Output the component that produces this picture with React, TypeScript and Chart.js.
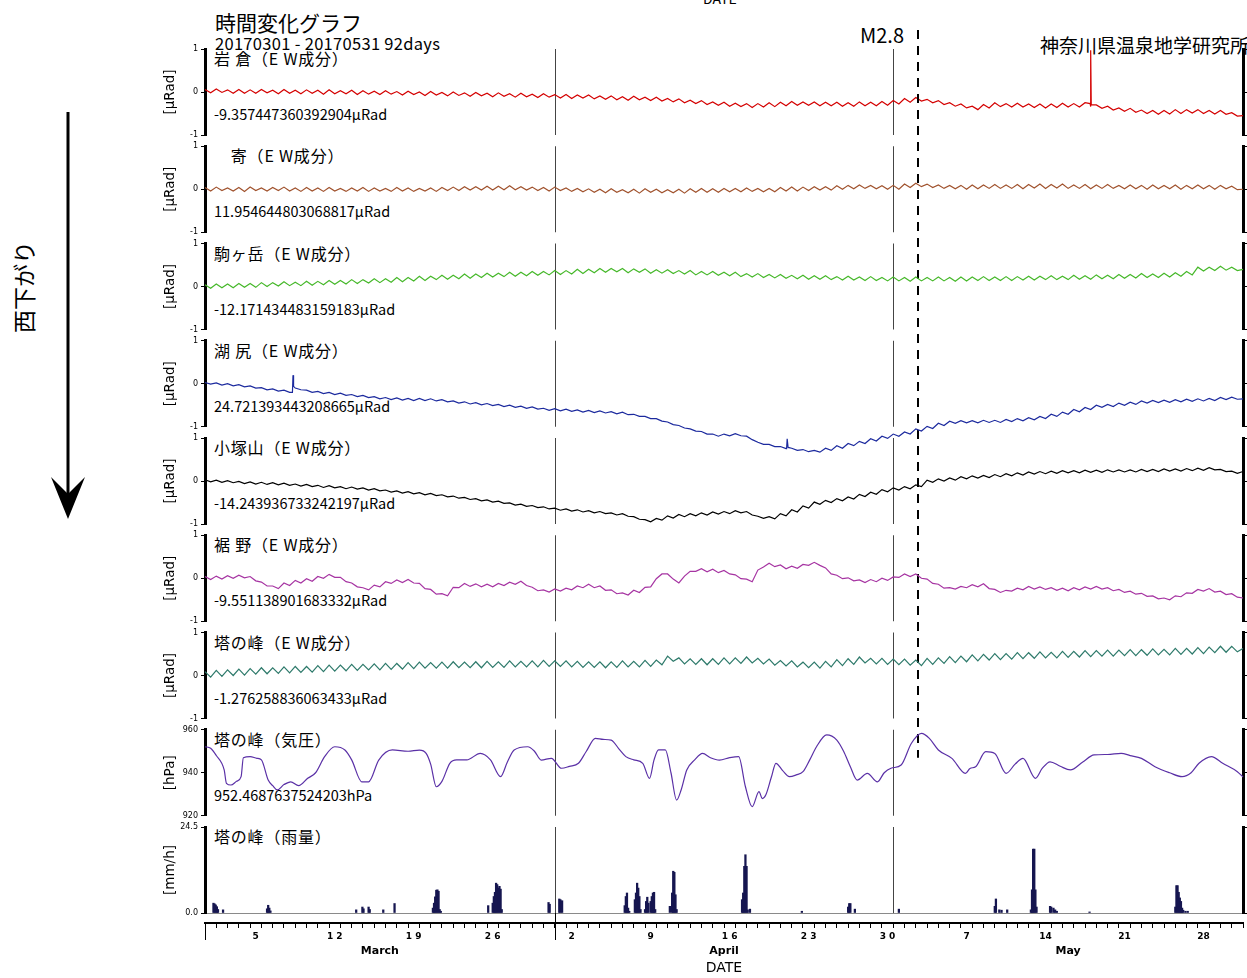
import React, { useEffect, useRef } from 'react';
import { Chart, registerables } from 'chart.js';

Chart.register(...registerables);
Chart.defaults.font.family = '"DejaVu Sans", sans-serif';

// ---- tilt series, one value every half day from 2017-03-01 00:00 (μRad, relative) ----
const iwakuraEW = [
  0.06, -0.02, 0.07, -0.01, 0.05, -0.03, 0.06, -0.03, 0.05, -0.03,
  0.06, -0.02, 0.04, -0.04, 0.06, -0.03, 0.04, -0.04, 0.05, -0.03,
  0.04, -0.05, 0.05, -0.04, 0.03, -0.04, 0.04, -0.06, 0.03, -0.05,
  0.02, -0.06, 0.03, -0.05, 0.01, -0.07, 0.02, -0.06, 0.0, -0.08,
  0.01, -0.07, -0.01, -0.09, 0.0, -0.08, -0.02, -0.1, -0.01, -0.09,
  -0.03, -0.11, -0.02, -0.1, -0.04, -0.12, -0.03, -0.11, -0.05, -0.13,
  -0.04, -0.12, -0.06, -0.14, -0.06, -0.15, -0.07, -0.14, -0.07, -0.16,
  -0.09, -0.17, -0.09, -0.18, -0.11, -0.19, -0.1, -0.18, -0.12, -0.2,
  -0.12, -0.21, -0.15, -0.23, -0.16, -0.25, -0.19, -0.27, -0.2, -0.29,
  -0.23, -0.31, -0.24, -0.33, -0.26, -0.34, -0.27, -0.36, -0.27, -0.35,
  -0.25, -0.34, -0.24, -0.32, -0.22, -0.31, -0.23, -0.31, -0.23, -0.32,
  -0.24, -0.32, -0.24, -0.33, -0.25, -0.33, -0.23, -0.32, -0.24, -0.32,
  -0.22, -0.31, -0.2, -0.28, -0.15, -0.24, -0.13, -0.21, -0.17, -0.25,
  -0.2, -0.29, -0.25, -0.33, -0.28, -0.37, -0.33, -0.41, -0.29, -0.37,
  -0.25, -0.34, -0.27, -0.35, -0.26, -0.35, -0.28, -0.36, -0.28, -0.37,
  -0.28, -0.36, -0.26, -0.35, -0.27, -0.35, -0.25, -0.34, -0.3, -0.38,
  -0.33, -0.42, -0.37, -0.45, -0.38, -0.47, -0.42, -0.5, -0.43, -0.52,
  -0.43, -0.51, -0.41, -0.5, -0.41, -0.49, -0.41, -0.5, -0.43, -0.51,
  -0.43, -0.52, -0.48, -0.56, -0.55,
];
const iwakuraSpike = [[78.45, -0.27], [78.5, 0.97], [78.55, -0.3]];

const ooyoseEW = [
  0.04, -0.04, 0.05, -0.03, 0.03, -0.04, 0.04, -0.05, 0.05, -0.03,
  0.03, -0.04, 0.04, -0.03, 0.05, -0.04, 0.03, -0.05, 0.04, -0.04,
  0.03, -0.05, 0.04, -0.04, 0.02, -0.05, 0.03, -0.04, 0.04, -0.05,
  0.03, -0.04, 0.02, -0.05, 0.04, -0.04, 0.03, -0.05, 0.02, -0.04,
  0.03, -0.05, 0.04, -0.03, 0.05, -0.03, 0.06, -0.02, 0.06, -0.02,
  0.07, -0.02, 0.07, -0.01, 0.08, -0.01, 0.06, -0.02, 0.05, -0.03,
  0.04, -0.04, 0.05, -0.03, 0.03, -0.05, 0.02, -0.06, 0.01, -0.07,
  0.0, -0.08, 0.01, -0.07, -0.01, -0.08, 0.0, -0.09, 0.01, -0.07,
  0.0, -0.08, -0.01, -0.08, 0.0, -0.09, 0.01, -0.07, 0.02, -0.07,
  0.01, -0.07, 0.02, -0.06, 0.02, -0.06, 0.03, -0.05, 0.02, -0.06,
  0.02, -0.06, 0.04, -0.04, 0.05, -0.04, 0.05, -0.03, 0.06, -0.02,
  0.06, -0.02, 0.08, 0.0, 0.09, 0.01, 0.1, 0.02, 0.09, 0.01,
  0.08, 0.0, 0.09, 0.0, 0.12, 0.04, 0.14, 0.06, 0.12, 0.04,
  0.1, 0.02, 0.09, 0.01, 0.09, 0.0, 0.1, 0.01, 0.1, 0.02,
  0.11, 0.02, 0.1, 0.02, 0.11, 0.01, 0.11, 0.03, 0.12, 0.02,
  0.11, 0.03, 0.12, 0.02, 0.1, 0.02, 0.11, 0.01, 0.1, 0.02,
  0.11, 0.02, 0.09, 0.01, 0.1, 0.01, 0.09, 0.0, 0.1, 0.01,
  0.09, 0.01, 0.1, 0.0, 0.09, 0.01, 0.1, 0.01, 0.09, 0.0,
  0.09, 0.01, 0.07, -0.01, 0.0,
];

const komagatakeEW = [
  0.04, -0.04, 0.06, -0.03, 0.06, -0.03, 0.07, -0.02, 0.07, -0.02,
  0.09, 0.0, 0.09, 0.01, 0.11, 0.02, 0.1, 0.02, 0.12, 0.03,
  0.12, 0.04, 0.14, 0.05, 0.14, 0.06, 0.16, 0.07, 0.16, 0.08,
  0.18, 0.09, 0.18, 0.1, 0.21, 0.11, 0.21, 0.13, 0.24, 0.14,
  0.24, 0.16, 0.26, 0.17, 0.26, 0.18, 0.29, 0.19, 0.29, 0.21,
  0.31, 0.22, 0.31, 0.23, 0.33, 0.24, 0.33, 0.25, 0.35, 0.26,
  0.35, 0.27, 0.37, 0.28, 0.37, 0.29, 0.4, 0.3, 0.4, 0.32,
  0.42, 0.33, 0.42, 0.34, 0.42, 0.32, 0.41, 0.33, 0.41, 0.31,
  0.39, 0.31, 0.39, 0.3, 0.37, 0.29, 0.37, 0.27, 0.35, 0.27,
  0.35, 0.26, 0.33, 0.25, 0.33, 0.23, 0.3, 0.22, 0.3, 0.21,
  0.28, 0.2, 0.28, 0.19, 0.26, 0.18, 0.26, 0.17, 0.25, 0.17,
  0.25, 0.16, 0.23, 0.15, 0.24, 0.15, 0.22, 0.14, 0.23, 0.14,
  0.21, 0.13, 0.22, 0.13, 0.21, 0.12, 0.22, 0.13, 0.21, 0.13,
  0.22, 0.13, 0.21, 0.12, 0.22, 0.13, 0.22, 0.14, 0.23, 0.14,
  0.22, 0.14, 0.23, 0.14, 0.23, 0.15, 0.24, 0.15, 0.24, 0.16,
  0.25, 0.16, 0.24, 0.16, 0.26, 0.17, 0.25, 0.17, 0.27, 0.18,
  0.26, 0.18, 0.28, 0.19, 0.28, 0.2, 0.3, 0.21, 0.29, 0.21,
  0.31, 0.22, 0.32, 0.24, 0.35, 0.27, 0.45, 0.36, 0.45, 0.37,
  0.47, 0.38, 0.45, 0.37, 0.4,
];

const kojiriEW = [
  0.03, -0.01, 0.02, -0.03, 0.0, -0.05, -0.02, -0.07, -0.05, -0.1,
  -0.09, -0.14, -0.12, -0.17, -0.15, -0.2, -0.1, -0.14, -0.15, -0.2,
  -0.18, -0.23, -0.2, -0.25, -0.22, -0.27, -0.25, -0.3, -0.27, -0.32,
  -0.3, -0.35, -0.32, -0.37, -0.33, -0.38, -0.34, -0.39, -0.34, -0.39,
  -0.35, -0.4, -0.37, -0.42, -0.4, -0.45, -0.42, -0.47, -0.44, -0.49,
  -0.46, -0.51, -0.48, -0.53, -0.5, -0.55, -0.52, -0.57, -0.54, -0.59,
  -0.57, -0.62, -0.58, -0.63, -0.59, -0.64, -0.61, -0.66, -0.62, -0.67,
  -0.63, -0.68, -0.65, -0.7, -0.66, -0.72, -0.71, -0.76, -0.76, -0.81,
  -0.81, -0.87, -0.89, -0.95, -0.97, -1.03, -1.05, -1.1, -1.11, -1.17,
  -1.17, -1.22, -1.17, -1.21, -1.16, -1.21, -1.22, -1.3, -1.36, -1.41,
  -1.41, -1.46, -1.46, -1.51, -1.5, -1.55, -1.53, -1.58, -1.55, -1.59,
  -1.5, -1.55, -1.44, -1.5, -1.39, -1.44, -1.34, -1.39, -1.28, -1.33,
  -1.22, -1.27, -1.17, -1.22, -1.12, -1.17, -1.05, -1.1, -0.99, -1.04,
  -0.92, -0.97, -0.87, -0.92, -0.86, -0.91, -0.86, -0.91, -0.85, -0.9,
  -0.85, -0.9, -0.83, -0.88, -0.81, -0.86, -0.79, -0.84, -0.76, -0.81,
  -0.71, -0.76, -0.66, -0.71, -0.6, -0.65, -0.55, -0.6, -0.5, -0.55,
  -0.48, -0.53, -0.45, -0.5, -0.43, -0.48, -0.4, -0.45, -0.39, -0.44,
  -0.38, -0.43, -0.37, -0.42, -0.36, -0.41, -0.35, -0.4, -0.34, -0.39,
  -0.32, -0.37, -0.31, -0.36, -0.35,
];
const kojiriSpikes = [[7.75, -0.2], [7.8, 0.2], [7.85, -0.06], [51.55, -1.5], [51.6, -1.28], [51.68, -1.48]];

const kozukayamaEW = [
  0.03, -0.02, 0.02, -0.03, 0.01, -0.04, -0.01, -0.06, -0.02, -0.07,
  -0.03, -0.08, -0.04, -0.09, -0.05, -0.1, -0.07, -0.12, -0.08, -0.13,
  -0.1, -0.15, -0.11, -0.16, -0.13, -0.18, -0.14, -0.19, -0.16, -0.21,
  -0.18, -0.23, -0.21, -0.26, -0.23, -0.28, -0.25, -0.3, -0.27, -0.32,
  -0.29, -0.34, -0.32, -0.37, -0.35, -0.4, -0.38, -0.43, -0.41, -0.46,
  -0.44, -0.49, -0.47, -0.52, -0.51, -0.56, -0.54, -0.59, -0.57, -0.62,
  -0.6, -0.65, -0.63, -0.68, -0.65, -0.7, -0.67, -0.72, -0.69, -0.74,
  -0.71, -0.76, -0.74, -0.79, -0.76, -0.82, -0.83, -0.89, -0.9, -0.95,
  -0.87, -0.91, -0.81, -0.86, -0.78, -0.83, -0.76, -0.81, -0.74, -0.79,
  -0.72, -0.77, -0.71, -0.76, -0.69, -0.74, -0.71, -0.79, -0.82, -0.87,
  -0.83, -0.88, -0.76, -0.81, -0.67, -0.72, -0.58, -0.63, -0.49, -0.54,
  -0.45, -0.5, -0.41, -0.46, -0.37, -0.42, -0.31, -0.36, -0.26, -0.31,
  -0.2, -0.25, -0.16, -0.21, -0.13, -0.18, -0.09, -0.13, 0.02, -0.03,
  0.05, 0.0, 0.07, 0.02, 0.1, 0.05, 0.12, 0.07, 0.13, 0.08,
  0.15, 0.1, 0.17, 0.12, 0.19, 0.14, 0.21, 0.16, 0.22, 0.17,
  0.23, 0.18, 0.24, 0.19, 0.24, 0.19, 0.25, 0.2, 0.25, 0.2,
  0.26, 0.21, 0.26, 0.21, 0.26, 0.21, 0.27, 0.22, 0.27, 0.22,
  0.28, 0.23, 0.28, 0.23, 0.29, 0.24, 0.3, 0.25, 0.31, 0.26,
  0.27, 0.22, 0.23, 0.18, 0.22,
];

const susonoEW = [
  0.04, -0.03, 0.05, -0.02, 0.06, 0.0, 0.07, 0.01, 0.04, -0.06,
  -0.09, -0.18, -0.18, -0.24, -0.11, -0.17, -0.05, -0.11, -0.01, -0.07,
  0.04, 0.0, 0.09, 0.02, 0.02, -0.08, -0.11, -0.2, -0.22, -0.27,
  -0.16, -0.2, -0.08, -0.12, -0.04, -0.1, -0.03, -0.11, -0.12, -0.24,
  -0.26, -0.37, -0.36, -0.41, -0.21, -0.22, -0.12, -0.19, -0.13, -0.2,
  -0.14, -0.2, -0.12, -0.17, -0.09, -0.14, -0.07, -0.17, -0.21, -0.29,
  -0.27, -0.32, -0.25, -0.3, -0.23, -0.27, -0.18, -0.22, -0.14, -0.22,
  -0.18, -0.28, -0.27, -0.36, -0.34, -0.39, -0.28, -0.33, -0.21, -0.2,
  -0.01, 0.1, 0.1, -0.02, -0.11, 0.05, 0.16, 0.16, 0.22, 0.15,
  0.21, 0.13, 0.18, 0.1, 0.08, -0.01, -0.02, -0.08, 0.19, 0.26,
  0.35, 0.27, 0.31, 0.22, 0.28, 0.23, 0.32, 0.3, 0.37, 0.3,
  0.24, 0.1, 0.07, -0.01, 0.01, -0.06, -0.04, -0.1, -0.03, -0.08,
  0.0, -0.05, 0.03, 0.02, 0.1, 0.04, 0.1, 0.0, -0.02, -0.12,
  -0.14, -0.23, -0.22, -0.25, -0.19, -0.22, -0.15, -0.2, -0.13, -0.24,
  -0.26, -0.33, -0.28, -0.3, -0.23, -0.27, -0.19, -0.25, -0.2, -0.26,
  -0.22, -0.28, -0.23, -0.29, -0.22, -0.27, -0.2, -0.25, -0.19, -0.25,
  -0.22, -0.29, -0.26, -0.33, -0.3, -0.37, -0.35, -0.42, -0.41, -0.48,
  -0.46, -0.5, -0.41, -0.43, -0.34, -0.35, -0.26, -0.3, -0.24, -0.32,
  -0.3, -0.38, -0.36, -0.44, -0.46,
];

const tonomineEW = [
  0.09, -0.04, 0.12, -0.02, 0.13, 0.0, 0.15, 0.01, 0.16, 0.03,
  0.18, 0.04, 0.18, 0.05, 0.2, 0.06, 0.21, 0.07, 0.21, 0.08,
  0.23, 0.09, 0.24, 0.1, 0.24, 0.11, 0.26, 0.12, 0.26, 0.13,
  0.27, 0.13, 0.28, 0.14, 0.28, 0.15, 0.3, 0.16, 0.31, 0.17,
  0.3, 0.17, 0.31, 0.17, 0.32, 0.18, 0.31, 0.18, 0.32, 0.18,
  0.33, 0.19, 0.32, 0.19, 0.34, 0.2, 0.33, 0.2, 0.34, 0.2,
  0.35, 0.21, 0.34, 0.21, 0.34, 0.2, 0.33, 0.19, 0.32, 0.19,
  0.32, 0.18, 0.32, 0.19, 0.34, 0.2, 0.33, 0.2, 0.35, 0.21,
  0.36, 0.25, 0.45, 0.33, 0.41, 0.27, 0.39, 0.26, 0.39, 0.25,
  0.39, 0.26, 0.41, 0.27, 0.41, 0.28, 0.43, 0.29, 0.4, 0.27,
  0.38, 0.24, 0.35, 0.22, 0.34, 0.2, 0.31, 0.18, 0.31, 0.17,
  0.33, 0.2, 0.37, 0.23, 0.39, 0.26, 0.43, 0.29, 0.4, 0.27,
  0.4, 0.26, 0.38, 0.25, 0.38, 0.24, 0.36, 0.23, 0.4, 0.26,
  0.41, 0.28, 0.44, 0.3, 0.45, 0.32, 0.48, 0.34, 0.49, 0.36,
  0.51, 0.37, 0.51, 0.38, 0.53, 0.39, 0.53, 0.4, 0.55, 0.41,
  0.54, 0.41, 0.56, 0.42, 0.56, 0.43, 0.58, 0.44, 0.58, 0.45,
  0.59, 0.45, 0.59, 0.46, 0.6, 0.46, 0.6, 0.47, 0.62, 0.48,
  0.61, 0.48, 0.63, 0.49, 0.63, 0.5, 0.65, 0.51, 0.66, 0.53,
  0.68, 0.54, 0.68, 0.55, 0.63,
];

// ---- 塔の峰 barometric pressure (day, hPa) ----
const pressureDays = [
  0, 0.5, 1.0, 1.7, 1.9, 2.3, 2.8, 3.2, 3.4, 4.0,
  4.6, 5.0, 5.6, 6.0, 6.4, 7.0, 7.6, 8.3, 9.1, 9.8,
  10.6, 11.5, 12.4, 13.0, 13.9, 14.5, 15.4, 16.6, 18.0, 19.0,
  19.6, 20.0, 20.5, 21.0, 21.7, 22.3, 23.2, 24.4, 25.3, 26.2,
  26.8, 27.4, 28.6, 29.2, 29.8, 30.7, 31.6, 32.3, 33.1, 33.8,
  34.6, 35.3, 36.0, 36.7, 37.3, 38.0, 38.8, 39.4, 39.8, 40.2,
  40.8, 41.3, 41.8, 42.2, 42.7, 43.4, 44.1, 44.8, 45.6, 46.5,
  47.3, 47.9, 48.5, 49.1, 49.4, 49.7, 50.2, 50.6, 51.2, 51.8,
  52.4, 53.0, 53.6, 54.2, 55.1, 56.0, 56.6, 57.2, 57.8, 58.7,
  59.6, 60.2, 60.8, 61.7, 62.6, 63.5, 64.2, 65.0, 66.2, 67.4,
  67.8, 68.3, 69.2, 70.0, 71.0, 71.8, 72.5, 73.6, 74.2, 74.9,
  75.8, 76.7, 77.8, 78.8, 80.0, 81.2, 82.0, 83.0, 84.2, 85.5,
  86.6, 87.4, 88.1, 89.2, 90.2, 91.5, 92.0,
];
const pressureHpa = [
  952.1, 951.4, 948, 941.3, 935.1, 934.3, 936, 938.2, 947, 947.5,
  946.7, 946, 936.6, 934, 932, 934.5, 935.8, 934, 937.4, 940,
  947.5, 952.1, 950.6, 946, 935.8, 935.8, 945.9, 950.6, 950, 950.5,
  949, 944, 933.5, 936, 944.4, 946, 946, 949, 946, 938.2,
  945, 950.6, 952.1, 950, 945.9, 946.7, 942.1, 943, 944.4, 950,
  956, 955.5, 955.2, 951, 947.5, 946, 944.4, 937.4, 946, 950.6,
  950.6, 940, 927.3, 932, 941.3, 946, 949, 947, 945.9, 947,
  947.5, 933.5, 924.2, 931.2, 928, 929.6, 938, 944.4, 941, 938.2,
  939, 940.5, 946, 952.1, 957.6, 955.2, 950, 942.8, 936.6, 939.7,
  935.8, 940, 942.1, 943.6, 953.6, 958.3, 956, 950.6, 946.7, 939.7,
  942, 942.8, 949.8, 949, 939.7, 944, 946.7, 937.4, 942, 945.1,
  943, 941.3, 945, 948.3, 948.5, 949, 948, 946.7, 942.8, 940,
  938.2, 940, 944.4, 947.5, 944.4, 940.5, 938,
];

// ---- 塔の峰 rainfall (day, mm/h) ----
const rainDays = [
  0.75, 0.85, 0.95, 1.05, 1.15, 1.6, 5.5, 5.6, 5.7, 5.8,
  13.4, 13.95, 14.05, 14.5, 14.6, 15.8, 16.8, 20.2, 20.3, 20.4,
  20.5, 20.6, 20.7, 20.8, 20.9, 25.1, 25.5, 25.6, 25.7, 25.8,
  25.9, 26.0, 26.1, 26.2, 26.3, 30.45, 30.55, 31.4, 31.5, 31.65,
  37.2, 37.3, 37.4, 37.5, 37.6, 38.1, 38.2, 38.3, 38.4, 38.5,
  38.6, 39.0, 39.1, 39.2, 39.3, 39.5, 39.6, 39.7, 39.8, 39.9,
  41.2, 41.4, 41.5, 41.6, 41.7, 41.8, 47.6, 47.7, 47.8, 47.9,
  48.0, 48.1, 48.3, 52.9, 57.0, 57.1, 57.2, 57.6, 61.5, 70.0,
  70.1, 70.4, 70.6, 71.1, 73.2, 73.3, 73.4, 73.5, 73.6, 73.7,
  74.9, 75.0, 75.2, 75.35, 75.5, 78.4, 86.0, 86.1, 86.2, 86.3,
  86.4, 86.5, 86.6, 86.7, 86.9, 87.1,
];
const rainMm = [
  2.8, 2.6, 2.3, 1.8, 1.0, 0.9, 1.2, 2.2, 1.4, 0.6,
  0.9, 1.7, 1.2, 1.7, 1.0, 0.9, 2.7, 1.4, 2.8, 4.6,
  6.5, 6.6, 6.2, 1.0, 0.5, 2.1, 2.8, 4.7, 5.9, 8.5,
  8.1, 7.1, 7.6, 6.8, 1.0, 3.0, 2.5, 4.0, 3.8, 3.5,
  2.1, 4.7, 5.7, 1.4, 0.5, 3.8, 5.7, 8.5, 7.1, 4.7,
  1.0, 1.0, 3.3, 4.5, 2.8, 3.3, 4.7, 5.7, 5.9, 1.0,
  1.9, 5.7, 11.9, 11.6, 5.2, 1.0, 3.8, 5.7, 13.3, 16.6,
  13.3, 0.9, 1.1, 0.5, 1.7, 2.7, 2.7, 1.1, 1.1, 1.9,
  4.0, 0.9, 0.8, 0.9, 0.9, 6.6, 18.2, 18.2, 6.6, 1.7,
  1.9, 1.7, 1.4, 0.9, 0.5, 0.3, 1.7, 7.8, 7.8, 5.9,
  4.3, 3.3, 1.4, 0.8, 0.5, 0.5,
];

// ---- axis labels ----
const tiltTicks = [-1, 0, 1];
const pressureTicks = [920, 940, 960];
const rainTicks = [0, 24.5];
const dayLabelDays = [4, 11, 18, 25, 32, 39, 46, 53, 60, 67, 74, 81, 88];
const dayLabelTexts = ['5', '1 2', '1 9', '2 6', '2', '9', '1 6', '2 3', '3 0', '7', '14', '21', '28'];
const monthCenters = [15.5, 46, 76.5];
const monthNames = ['March', 'April', 'May'];
const monthStarts = [31, 61];
const quakeDay = 63.2;
const TOTAL_DAYS = 92;

// ---- page geometry ----
const PAGE_W = 1247;
const PAGE_H = 978;
const PANEL_TOP = 49;
const PANEL_STEP = 97.25;
const PANEL_H = 86;
const CJK = '"Noto Sans CJK JP", "Noto Sans", sans-serif';

type Pt = { x: number; y: number };

function halfDayPoints(values: number[], extra: number[][] = []): Pt[] {
  const pts = values.map((v, i) => ({ x: i / 2, y: v }));
  extra.forEach(([x, y]) => pts.push({ x, y }));
  return pts.sort((a, b) => a.x - b.x);
}

interface Panel {
  title: string;
  reading?: string;
  unit: string;
  color: string;
  points: Pt[];
  min: number;
  max: number;
  ticks: number[];
  fmt: (v: number) => string;
  bars?: boolean;
  smooth?: boolean;
}

const plain = (v: number) => String(v);

const panels: Panel[] = [
  { title: '岩 倉（E W成分）', reading: '-9.357447360392904μRad', unit: '[μRad]', color: '#d40000',
    points: halfDayPoints(iwakuraEW, iwakuraSpike), min: -1, max: 1, ticks: tiltTicks, fmt: plain },
  { title: '\u3000寄（E W成分）', reading: '11.954644803068817μRad', unit: '[μRad]', color: '#a0522d',
    points: halfDayPoints(ooyoseEW), min: -1, max: 1, ticks: tiltTicks, fmt: plain },
  { title: '駒ヶ岳（E W成分）', reading: '-12.171434483159183μRad', unit: '[μRad]', color: '#46b82a',
    points: halfDayPoints(komagatakeEW), min: -1, max: 1, ticks: tiltTicks, fmt: plain },
  { title: '湖 尻（E W成分）', reading: '24.721393443208665μRad', unit: '[μRad]', color: '#1c2a9e',
    points: halfDayPoints(kojiriEW, kojiriSpikes), min: -1, max: 1, ticks: tiltTicks, fmt: plain },
  { title: '小塚山（E W成分）', reading: '-14.243936733242197μRad', unit: '[μRad]', color: '#000000',
    points: halfDayPoints(kozukayamaEW), min: -1, max: 1, ticks: tiltTicks, fmt: plain },
  { title: '裾 野（E W成分）', reading: '-9.551138901683332μRad', unit: '[μRad]', color: '#a634a2',
    points: halfDayPoints(susonoEW), min: -1, max: 1, ticks: tiltTicks, fmt: plain },
  { title: '塔の峰（E W成分）', reading: '-1.276258836063433μRad', unit: '[μRad]', color: '#2e7a6b',
    points: halfDayPoints(tonomineEW), min: -1, max: 1, ticks: tiltTicks, fmt: plain },
  { title: '塔の峰（気圧）', reading: '952.4687637524203hPa', unit: '[hPa]', color: '#5a30a6',
    points: pressureDays.map((d, i) => ({ x: d, y: pressureHpa[i] })), min: 920, max: 960, ticks: pressureTicks,
    fmt: plain, smooth: true },
  { title: '塔の峰（雨量）', unit: '[mm/h]', color: '#161650',
    points: rainDays.map((d, i) => ({ x: d, y: rainMm[i] })), min: 0, max: 24.5, ticks: rainTicks,
    fmt: (v) => v.toFixed(1), bars: true },
];

const panelTop = (i: number) => PANEL_TOP + PANEL_STEP * i;

// thin month boundary lines inside every panel
const monthLines = {
  id: 'monthLines',
  beforeDatasetsDraw(chart: Chart) {
    const { ctx, chartArea, scales } = chart;
    ctx.save();
    ctx.strokeStyle = '#444';
    ctx.lineWidth = 1;
    monthStarts.forEach((d) => {
      const px = Math.round(scales.x.getPixelForValue(d)) + 0.5;
      ctx.beginPath();
      ctx.moveTo(px, chartArea.top);
      ctx.lineTo(px, chartArea.bottom);
      ctx.stroke();
    });
    ctx.restore();
  },
};

// dashed earthquake marker, drawn once from the top panel
const quakeLine = {
  id: 'quakeLine',
  afterDraw(chart: Chart) {
    const { ctx, chartArea, scales } = chart;
    const px = Math.round(scales.x.getPixelForValue(quakeDay));
    ctx.save();
    ctx.strokeStyle = '#000';
    ctx.lineWidth = 2;
    ctx.setLineDash([9, 7]);
    ctx.beginPath();
    ctx.moveTo(px, chartArea.top - 19);
    ctx.lineTo(px, chartArea.top + PANEL_STEP * 7 + 28);
    ctx.stroke();
    ctx.restore();
  },
};

function makePanel(canvas: HTMLCanvasElement, p: Panel, i: number): Chart {
  const top = panelTop(i);
  const setTicks = (s: any) => { s.ticks = p.ticks.map((value) => ({ value })); };
  const plugins: any[] = [monthLines];
  if (i === 0) plugins.push(quakeLine);
  const dataset: any = p.bars
    ? { data: p.points, backgroundColor: p.color, borderWidth: 0, barThickness: 1.6, clip: false }
    : {
        data: p.points,
        borderColor: p.color,
        borderWidth: 1.2,
        pointRadius: 0,
        tension: p.smooth ? 0.3 : 0,
        cubicInterpolationMode: p.smooth ? 'monotone' : 'default',
        clip: false,
      };
  return new Chart(canvas, {
    type: p.bars ? 'bar' : 'line',
    data: { datasets: [dataset] },
    plugins,
    options: {
      responsive: false,
      animation: false,
      events: [],
      layout: { padding: { top, bottom: PAGE_H - top - PANEL_H, left: 160, right: 0 } },
      plugins: { legend: { display: false }, tooltip: { enabled: false } },
      scales: {
        x: { type: 'linear', min: 0, max: TOTAL_DAYS, display: false, offset: false },
        y: {
          min: p.min,
          max: p.max,
          afterBuildTicks: setTicks,
          afterFit: (s: any) => { s.width = 45; },
          border: { color: '#000', width: 3 },
          grid: {
            drawOnChartArea: !!p.bars,
            color: (c: any) => (p.bars && c.tick && c.tick.value === 0 ? '#8a8a8a' : 'rgba(0,0,0,0)'),
            tickColor: '#000',
            tickLength: 4,
          },
          ticks: { color: '#000', font: { size: 8 }, padding: 3, callback: (v: any) => p.fmt(Number(v)) },
          title: { display: true, text: p.unit, color: '#000', font: { size: 13.5 }, padding: { top: 2, bottom: 0 } },
        },
        y2: {
          type: 'linear',
          position: 'right',
          min: p.min,
          max: p.max,
          afterBuildTicks: setTicks,
          afterFit: (s: any) => { s.width = 4; },
          border: { color: '#000', width: 3 },
          grid: { drawOnChartArea: false, tickColor: '#000', tickLength: 4 },
          ticks: { display: false },
        },
      },
    } as any,
  });
}

// long ticks at the start of the record and at the month boundary
const axisMarks = {
  id: 'axisMarks',
  afterDraw(chart: Chart) {
    const { ctx, chartArea, scales } = chart;
    ctx.save();
    ctx.strokeStyle = '#000';
    ctx.lineWidth = 1;
    [0, monthStarts[0]].forEach((d, k) => {
      const px = Math.round(scales.x.getPixelForValue(d)) + 0.5;
      ctx.beginPath();
      ctx.moveTo(px, k === 0 ? chartArea.bottom : chartArea.bottom - 10);
      ctx.lineTo(px, chartArea.bottom + 17);
      ctx.stroke();
    });
    ctx.restore();
  },
};

function makeAxis(canvas: HTMLCanvasElement): Chart {
  return new Chart(canvas, {
    type: 'line',
    data: { datasets: [] },
    plugins: [axisMarks],
    options: {
      responsive: false,
      animation: false,
      events: [],
      layout: { padding: { top: 915, bottom: 0, left: 205, right: 4 } },
      plugins: { legend: { display: false }, tooltip: { enabled: false } },
      scales: {
        x: {
          type: 'linear',
          position: 'bottom',
          min: 0,
          max: TOTAL_DAYS,
          afterFit: (s: any) => { s.height = 20; },
          border: { color: '#000', width: 2 },
          grid: { drawOnChartArea: false, tickLength: 5, color: '#000', lineWidth: 1 },
          ticks: {
            stepSize: 1,
            autoSkip: false,
            maxRotation: 0,
            minRotation: 0,
            labelOffset: 5.6,
            padding: 3,
            color: '#000',
            font: { size: 9, weight: 'bold' },
            callback: (v: any) => {
              const k = dayLabelDays.indexOf(Number(v));
              return k >= 0 ? dayLabelTexts[k] : '';
            },
          },
        },
        xm: {
          type: 'linear',
          axis: 'x',
          position: 'bottom',
          min: 0,
          max: TOTAL_DAYS,
          afterBuildTicks: (s: any) => { s.ticks = monthCenters.map((value) => ({ value })); },
          afterFit: (s: any) => { s.height = 35; },
          border: { display: false },
          grid: { display: false, drawTicks: false, tickLength: 0 },
          ticks: {
            autoSkip: false,
            maxRotation: 0,
            padding: 2,
            color: '#000',
            font: { size: 11, weight: 'bold' },
            callback: (_v: any, idx: number) => monthNames[idx],
          },
          title: { display: true, text: 'DATE', color: '#000', font: { size: 14 }, padding: { top: 0, bottom: 1 } },
        },
        y: { display: false },
      },
    } as any,
  });
}

const abs = (extra: React.CSSProperties): React.CSSProperties => ({
  position: 'absolute',
  whiteSpace: 'nowrap',
  lineHeight: 1,
  color: '#000',
  fontFamily: CJK,
  ...extra,
});

export default function App() {
  const canvasRefs = useRef<(HTMLCanvasElement | null)[]>([]);

  useEffect(() => {
    const charts: Chart[] = [];
    panels.forEach((p, i) => {
      const c = canvasRefs.current[i];
      if (c) charts.push(makePanel(c, p, i));
    });
    const axisCanvas = canvasRefs.current[panels.length];
    if (axisCanvas) charts.push(makeAxis(axisCanvas));
    return () => charts.forEach((c) => c.destroy());
  }, []);

  return (
    <div style={{ position: 'absolute', left: 0, top: 0, width: PAGE_W, height: PAGE_H, overflow: 'hidden', background: '#fff' }}>
      <div style={abs({ left: 703, top: -9, fontSize: 14 })}>DATE</div>
      <div style={abs({ left: 215, top: 12, fontSize: 21 })}>時間変化グラフ</div>
      <div style={abs({ left: 215, top: 34.5, fontSize: 16.5, letterSpacing: '0.3px' })}>20170301 - 20170531 92days</div>
      <div style={abs({ left: 860, top: 25, fontSize: 20 })}>M2.8</div>
      <div style={abs({ left: 1040, top: 34.5, fontSize: 19 })}>神奈川県温泉地学研究所</div>

      <svg width={120} height={540} style={{ position: 'absolute', left: 0, top: 0 }}>
        <line x1={68} y1={112} x2={68} y2={494} stroke="#000" strokeWidth={3} />
        <polygon points="68,519 51,477 68,494 85,477" fill="#000" />
      </svg>
      <div style={abs({ left: 23, top: 287, fontSize: 23, transform: 'translate(-50%, -50%) rotate(-90deg)' })}>西下がり</div>

      {panels.map((p, i) => (
        <React.Fragment key={i}>
          <div style={abs({ left: 214, top: panelTop(i) + 1, fontSize: 16, letterSpacing: '0.8px' })}>{p.title}</div>
          {p.reading && (
            <div style={abs({ left: 214, top: panelTop(i) + 58, fontSize: 14.5 })}>{p.reading}</div>
          )}
        </React.Fragment>
      ))}

      {[...panels, null].map((_, i) => (
        <canvas
          key={`c${i}`}
          ref={(el) => { canvasRefs.current[i] = el; }}
          width={PAGE_W}
          height={PAGE_H}
          style={{ position: 'absolute', left: 0, top: 0, width: PAGE_W, height: PAGE_H }}
        />
      ))}
    </div>
  );
}
